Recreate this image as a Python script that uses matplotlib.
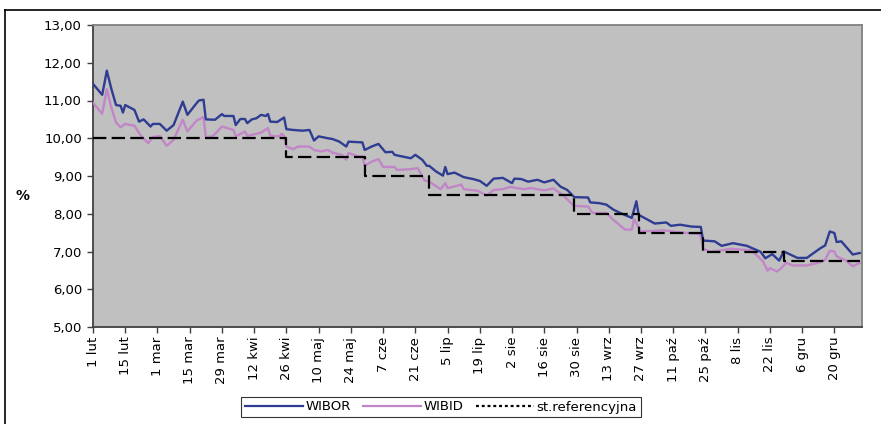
import matplotlib
matplotlib.use("Agg")
import matplotlib.pyplot as plt
import pandas as pd
from matplotlib.lines import Line2D

# ---------------- data ----------------
wibor_dates = [
    "2002-02-01", "2002-02-05", "2002-02-07", "2002-02-09", "2002-02-11", "2002-02-13", "2002-02-14",
    "2002-02-15", "2002-02-19", "2002-02-21", "2002-02-23", "2002-02-26", "2002-02-27", "2002-03-02",
    "2002-03-05", "2002-03-08", "2002-03-12", "2002-03-14", "2002-03-18", "2002-03-19", "2002-03-21",
    "2002-03-22", "2002-03-26", "2002-03-29", "2002-03-30", "2002-04-03", "2002-04-04", "2002-04-06",
    "2002-04-08", "2002-04-09", "2002-04-11", "2002-04-13", "2002-04-15", "2002-04-17", "2002-04-18",
    "2002-04-19", "2002-04-22", "2002-04-25", "2002-04-26", "2002-04-29", "2002-05-03", "2002-05-06",
    "2002-05-08", "2002-05-10", "2002-05-14", "2002-05-16", "2002-05-19", "2002-05-22", "2002-05-23",
    "2002-05-29", "2002-05-30", "2002-06-02", "2002-06-05", "2002-06-08", "2002-06-11", "2002-06-12",
    "2002-06-19", "2002-06-21", "2002-06-24", "2002-06-26", "2002-06-27", "2002-06-30", "2002-07-03",
    "2002-07-04", "2002-07-05", "2002-07-08", "2002-07-12", "2002-07-16", "2002-07-19", "2002-07-22",
    "2002-07-25", "2002-07-29", "2002-08-02", "2002-08-03", "2002-08-06", "2002-08-09", "2002-08-13",
    "2002-08-16", "2002-08-20", "2002-08-23", "2002-08-26", "2002-08-29", "2002-09-04", "2002-09-05",
    "2002-09-09", "2002-09-12", "2002-09-15", "2002-09-18", "2002-09-23", "2002-09-25", "2002-09-26",
    "2002-09-30", "2002-10-03", "2002-10-08", "2002-10-10", "2002-10-14", "2002-10-19", "2002-10-23",
    "2002-10-24", "2002-10-29", "2002-11-01", "2002-11-06", "2002-11-12", "2002-11-18", "2002-11-20",
    "2002-11-23", "2002-11-26", "2002-11-28", "2002-12-04", "2002-12-08", "2002-12-14", "2002-12-16",
    "2002-12-18", "2002-12-20", "2002-12-21", "2002-12-23", "2002-12-28", "2002-12-31",
]
wibor_values = [
    11.44, 11.15, 11.79, 11.30, 10.88, 10.86, 10.68,
    10.88, 10.75, 10.44, 10.50, 10.31, 10.38, 10.38,
    10.20, 10.35, 10.97, 10.62, 10.93, 11.00, 11.02,
    10.50, 10.49, 10.64, 10.59, 10.59, 10.35, 10.51,
    10.51, 10.40, 10.50, 10.53, 10.62, 10.59, 10.64,
    10.44, 10.43, 10.55, 10.24, 10.22, 10.20, 10.22,
    9.94, 10.05, 10.00, 9.98, 9.91, 9.78, 9.91,
    9.89, 9.69, 9.78, 9.85, 9.63, 9.64, 9.56,
    9.47, 9.56, 9.43, 9.27, 9.27, 9.12, 9.01,
    9.24, 9.05, 9.09, 8.97, 8.92, 8.87, 8.74,
    8.93, 8.95, 8.81, 8.93, 8.92, 8.85, 8.90,
    8.83, 8.90, 8.72, 8.63, 8.44, 8.43, 8.30,
    8.28, 8.24, 8.11, 8.02, 7.89, 8.33, 7.97,
    7.84, 7.74, 7.77, 7.68, 7.71, 7.66, 7.65,
    7.29, 7.27, 7.15, 7.22, 7.15, 6.99, 6.82,
    6.93, 6.76, 7.00, 6.83, 6.83, 7.09, 7.16,
    7.53, 7.49, 7.25, 7.27, 6.92, 6.96,
]

wibid_dates = [
    "2002-02-01", "2002-02-05", "2002-02-07", "2002-02-09", "2002-02-11", "2002-02-13", "2002-02-15",
    "2002-02-19", "2002-02-22", "2002-02-25", "2002-02-27", "2002-03-02", "2002-03-05", "2002-03-08",
    "2002-03-12", "2002-03-14", "2002-03-18", "2002-03-21", "2002-03-22", "2002-03-25", "2002-03-29",
    "2002-04-03", "2002-04-04", "2002-04-08", "2002-04-09", "2002-04-15", "2002-04-18", "2002-04-19",
    "2002-04-23", "2002-04-24", "2002-04-25", "2002-04-26", "2002-04-29", "2002-05-01", "2002-05-06",
    "2002-05-08", "2002-05-11", "2002-05-14", "2002-05-16", "2002-05-20", "2002-05-22", "2002-05-23",
    "2002-05-27", "2002-05-29", "2002-05-30", "2002-06-02", "2002-06-05", "2002-06-07", "2002-06-12",
    "2002-06-13", "2002-06-19", "2002-06-22", "2002-06-25", "2002-06-27", "2002-07-02", "2002-07-04",
    "2002-07-05", "2002-07-11", "2002-07-12", "2002-07-18", "2002-07-22", "2002-07-25", "2002-07-29",
    "2002-08-01", "2002-08-07", "2002-08-10", "2002-08-16", "2002-08-20", "2002-08-24", "2002-08-27",
    "2002-08-29", "2002-09-04", "2002-09-06", "2002-09-09", "2002-09-12", "2002-09-15", "2002-09-20",
    "2002-09-23", "2002-09-24", "2002-09-27", "2002-10-07", "2002-10-13", "2002-10-22", "2002-10-23",
    "2002-10-24", "2002-10-27", "2002-11-01", "2002-11-05", "2002-11-14", "2002-11-19", "2002-11-21",
    "2002-11-22", "2002-11-25", "2002-11-27", "2002-11-29", "2002-12-02", "2002-12-08", "2002-12-13",
    "2002-12-16", "2002-12-18", "2002-12-20", "2002-12-21", "2002-12-25", "2002-12-28", "2002-12-31",
]
wibid_values = [
    10.94, 10.65, 11.30, 10.80, 10.42, 10.29, 10.38,
    10.33, 10.05, 9.87, 10.03, 10.06, 9.80, 9.96,
    10.49, 10.18, 10.47, 10.56, 10.03, 10.05, 10.31,
    10.22, 10.05, 10.18, 10.06, 10.15, 10.27, 10.06,
    10.05, 10.12, 10.06, 9.78, 9.71, 9.78, 9.78,
    9.69, 9.65, 9.69, 9.62, 9.56, 9.43, 9.61,
    9.52, 9.52, 9.27, 9.38, 9.45, 9.24, 9.24,
    9.16, 9.18, 9.21, 8.88, 8.85, 8.65, 8.81,
    8.68, 8.77, 8.65, 8.61, 8.48, 8.63, 8.65,
    8.71, 8.65, 8.68, 8.62, 8.67, 8.50, 8.32,
    8.21, 8.19, 8.02, 8.02, 8.02, 7.84, 7.58,
    7.58, 7.86, 7.53, 7.56, 7.51, 7.47, 7.40,
    7.07, 7.00, 7.03, 7.07, 7.03, 6.74, 6.49,
    6.56, 6.47, 6.56, 6.70, 6.63, 6.63, 6.70,
    6.78, 7.02, 7.00, 6.87, 6.76, 6.61, 6.70,
]

ref_dates = ["2002-02-01", "2002-04-26", "2002-05-30", "2002-06-27", "2002-08-29",
             "2002-09-26", "2002-10-24", "2002-11-28", "2002-12-31"]
ref_values = [10.00, 9.50, 9.00, 8.50, 8.00, 7.50, 7.00, 6.75, 6.75]

tick_labels = ["1 lut", "15 lut", "1 mar", "15 mar", "29 mar", "12 kwi", "26 kwi", "10 maj",
               "24 maj", "7 cze", "21 cze", "5 lip", "19 lip", "2 sie", "16 sie", "30 sie",
               "13 wrz", "27 wrz", "11 paź", "25 paź", "8 lis", "22 lis", "6 gru", "20 gru"]
y_ticks = [5, 6, 7, 8, 9, 10, 11, 12, 13]

series_names = ["WIBOR", "WIBID", "st.referencyjna"]

# ---------------- plot ----------------
plt.rcParams['font.family'] = ['DejaVu Sans']
W, H = 881, 424
fig = plt.figure(figsize=(W / 100, H / 100), dpi=100)
ax = fig.add_axes([93 / W, 1 - 327 / H, (862 - 93) / W, (327 - 25) / H])
ax.set_facecolor("#C0C0C0")

wd = pd.to_datetime(wibor_dates)
bd = pd.to_datetime(wibid_dates)
rd = pd.to_datetime(ref_dates)

c_wibor = "#2E3C92"
c_wibid = "#C286C8"
ax.plot(bd, wibid_values, color=c_wibid, lw=1.7, solid_joinstyle="round", zorder=3)
ax.plot(wd, wibor_values, color=c_wibor, lw=1.7, solid_joinstyle="round", zorder=4)
ref_line, = ax.plot(rd, ref_values, color="black", lw=1.6, drawstyle="steps-post", zorder=5)
ref_line.set_dashes((6.0, 2.4))

start = pd.Timestamp("2002-02-01")
ax.set_xlim(start, pd.Timestamp("2003-01-01"))
ax.set_ylim(5, 13)
tick_pos = [start + pd.Timedelta(days=14 * i) for i in range(len(tick_labels))]
ax.set_xticks(tick_pos)
ax.set_xticklabels(tick_labels, rotation=90, fontsize=9.5)
ax.set_yticks(y_ticks)
ax.set_yticklabels([f"{v:.2f}".replace(".", ",") for v in y_ticks], fontsize=9.5)
ax.tick_params(axis="both", direction="out", length=4, width=1, color="#404040")
ax.tick_params(axis="x", pad=3)
ax.tick_params(axis="y", pad=4)

for s in ["left", "bottom"]:
    ax.spines[s].set_color("#404040")
    ax.spines[s].set_linewidth(1.3)
for s in ["top", "right"]:
    ax.spines[s].set_color("#808080")
    ax.spines[s].set_linewidth(1.3)

fig.text(22 / W, 1 - 196 / H, "%", fontsize=10, fontweight="bold", ha="center", va="center")

handles = [
    Line2D([], [], color=c_wibor, lw=1.6),
    Line2D([], [], color=c_wibid, lw=1.6),
    Line2D([], [], color="black", lw=1.6, dashes=(1.3, 1.3)),
]
leg = fig.legend(handles, series_names, loc="center", bbox_to_anchor=(441 / W, 1 - 407 / H),
                 ncol=3, fontsize=9.5, frameon=True, fancybox=False, handlelength=4.4,
                 handletextpad=0.2, columnspacing=0.9, borderpad=0.3)
leg.get_frame().set_edgecolor("black")
leg.get_frame().set_linewidth(0.8)

# outer chart-area frame (top and left edges visible)
fig.add_artist(Line2D([5 / W, 1], [1 - 10 / H, 1 - 10 / H], transform=fig.transFigure,
                      color="black", lw=1.2))
fig.add_artist(Line2D([5 / W, 5 / W], [0, 1 - 10 / H], transform=fig.transFigure,
                      color="black", lw=1.2))

fig.savefig("out.png", dpi=100)
